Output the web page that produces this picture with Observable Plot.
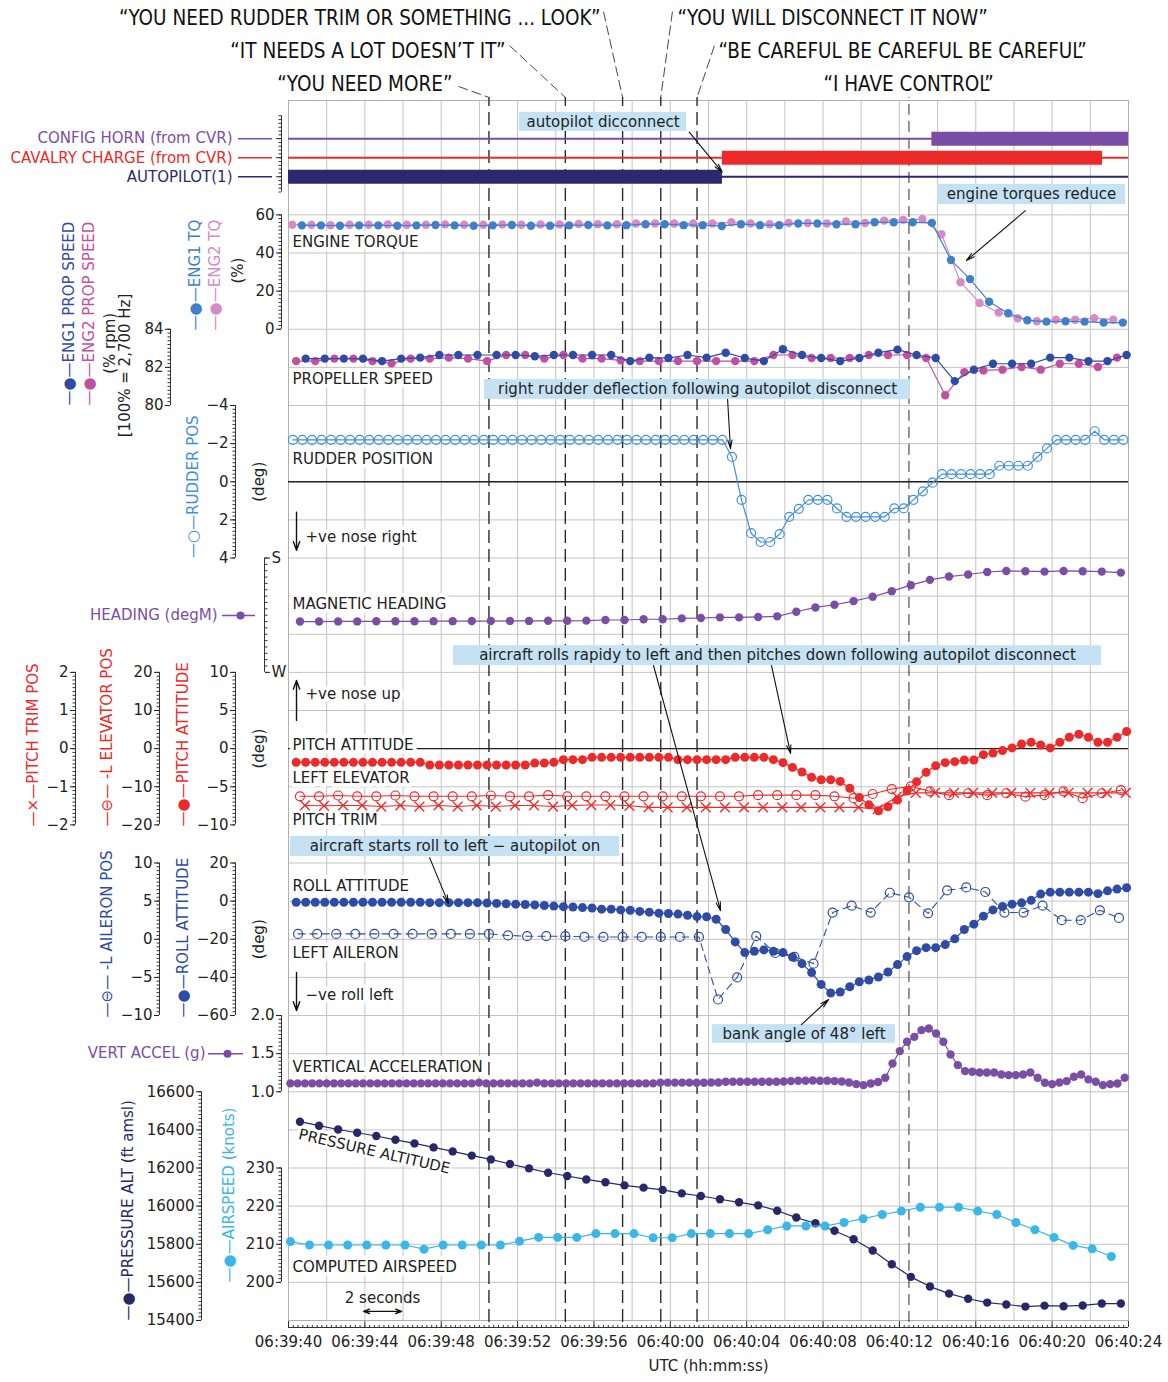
<!DOCTYPE html>
<html><head><meta charset="utf-8">
<script src="https://cdn.jsdelivr.net/npm/d3@7"></script>
<script src="https://cdn.jsdelivr.net/npm/@observablehq/plot@0.6"></script>
<style>
body{margin:0;background:#fff;}
#chart svg{display:block;}
g[aria-label="note-text"] text{letter-spacing:0.5px;}
</style></head><body><div id="chart"></div>
<script>
// ---------------- DATA ----------------
// time in seconds after 06:39:40 UTC
const timeTickSec = [0,4,8,12,16,20,24,28,32,36,40,44];
const timeTickLabels = ["06:39:40","06:39:44","06:39:48","06:39:52","06:39:56","06:40:00","06:40:04","06:40:08","06:40:12","06:40:16","06:40:20","06:40:24"];

const eventTimes = [10.5, 14.5, 17.5, 19.5, 21.4];
const controlTime = [32.5];
const quoteTexts = ["\u201CYOU NEED RUDDER TRIM OR SOMETHING ... LOOK\u201D","\u201CYOU WILL DISCONNECT IT NOW\u201D","\u201CIT NEEDS A LOT DOESN\u2019T IT\u201D","\u201CBE CAREFUL BE CAREFUL BE CAREFUL\u201D","\u201CYOU NEED MORE\u201D","\u201CI HAVE CONTROL\u201D"];
const quoteEvent = [17.5, 19.5, 14.5, 21.4, 10.5, 32.5];

// discrete parameters: [start, end] seconds
const configHornOn = [[33.7, 44]];
const cavalryChargeOn = [[22.73, 42.64]];
const autopilotOn = [[0, 22.73]];

// engine torque (%)
const eng1TqStart = 0.7, eng1TqStep = 1;
const eng1Tq = [54.5,54.5,54.3,54.5,54.5,54.3,54.5,54.7,54.5,54.3,54.5,54.7,54.3,54.3,54.5,54.7,54.5,54.6,55.1,55.1,54.6,54.6,54.2,55.1,54.6,54.6,55.5,55.5,55.1,55.1,56.1,56.1,56.1,55.8,36.3,26.3,14.4,8.4,4.7,4.0,4.2,4.0,3.5,3.5];
const eng2TqStart = 0.2, eng2TqStep = 1;
const eng2Tq = [54.8,54.8,54.6,54.8,54.8,55.0,54.8,54.8,55.0,54.8,54.8,55.0,54.8,55.0,55.0,55.2,55.1,55.1,55.5,55.5,55.5,55.5,55.5,56.1,55.5,55.1,55.7,55.7,55.5,56.6,55.7,57.0,57.4,57.8,49.8,24.7,13.8,8.8,5.8,4.2,5.0,5.0,5.8,5.0];

// propeller speed (% rpm)
const eng1PropStart = 0.9, eng1PropStep = 1;
const eng1Prop = [82.46,82.46,82.46,82.46,82.33,82.46,82.51,82.65,82.65,82.65,82.65,82.65,82.58,82.65,82.65,82.65,82.65,82.33,82.51,82.49,82.65,82.51,82.77,82.49,82.33,82.95,82.65,82.49,82.33,82.49,82.77,82.93,82.65,82.49,81.28,81.88,82.19,82.19,82.19,82.51,82.51,82.33,82.33,82.65];
const eng2PropStart = 0.4, eng2PropStep = 1;
const eng2Prop = [82.33,82.33,82.46,82.46,82.33,82.21,82.46,82.46,82.51,82.46,82.33,82.65,82.65,82.46,82.65,82.46,82.46,82.37,82.33,82.33,82.33,82.33,82.33,82.33,82.33,82.65,82.65,82.49,82.49,82.49,82.65,82.65,82.65,82.49,80.54,81.75,81.84,81.88,82.02,81.88,82.19,82.19,82.02,82.51];

// rudder position (deg)
const rudderStart = 0.23, rudderStep = 0.5;
const rudderPos = [-2.2,-2.2,-2.2,-2.2,-2.2,-2.2,-2.2,-2.2,-2.2,-2.2,-2.2,-2.2,-2.2,-2.2,-2.2,-2.2,-2.2,-2.2,-2.2,-2.2,-2.2,-2.2,-2.2,-2.2,-2.2,-2.2,-2.2,-2.2,-2.2,-2.2,-2.2,-2.2,-2.2,-2.2,-2.2,-2.2,-2.2,-2.2,-2.2,-2.2,-2.2,-2.2,-2.2,-2.2,-2.2,-2.2,
  -1.3,0.95,2.7,3.16,3.16,2.75,1.84,1.42,0.95,0.95,0.95,1.4,1.84,1.84,1.84,1.84,1.84,1.4,1.4,0.95,0.5,0.05,-0.4,-0.4,-0.4,-0.4,-0.4,-0.4,-0.84,-0.84,-0.84,-0.84,-1.3,-1.75,-2.2,-2.2,-2.2,-2.2,-2.65,-2.2,-2.2,-2.2];

// magnetic heading (degM)
const headingStart = 0.6, headingStep = 1;
const heading = [230.0,230.0,229.9,229.9,229.8,229.8,229.8,229.7,229.7,229.6,229.6,229.5,229.5,229.4,229.4,229.3,228.8,228.8,228.2,228.2,227.5,227.2,226.7,226.7,226.4,225.9,222.3,218.9,216.8,213.9,210.5,206.1,201.4,197.2,194.6,193.0,191.0,190.2,190.4,190.7,190.2,190.4,190.7,191.5];

// pitch attitude (deg)
const pitchStart = 0.4, pitchStep = 0.5;
const pitchAtt = [-1.8,-1.8,-1.8,-1.8,-1.8,-1.8,-1.8,-1.8,-1.8,-1.8,-1.8,-1.8,-1.8,-1.8,
  -2.15,-2.15,-2.15,-2.15,-2.15,-2.15,-2.15,-2.15,-2.15,-2.15,-2.15,-1.9,-1.88,-1.8,-1.45,-1.45,-1.45,
  -1.14,-1.14,-1.14,-1.14,-1.14,-1.14,-1.14,-1.14,-1.14,-1.45,-1.45,-1.45,-1.45,-1.45,-1.45,-1.14,-1.14,-1.14,-1.14,-1.45,
  -1.84,-2.46,-3.07,-3.77,-4.08,-4.08,-4.3,-5.2,-6.4,-7.37,-8.16,-7.63,-6.75,-5.53,-4.34,-3.11,-2.24,-1.84,-1.71,-1.49,-1.49,-0.79,-0.57,-0.26,0.09,0.61,0.83,0.48,0.09,0.83,1.49,1.89,1.49,0.83,0.83,1.49,2.24];

// left elevator (deg, plotted as -L)
const elevStart = 0.6, elevStep = 1;
const elevPos = [-12.5,-12.5,-12.3,-12.5,-12.5,-12.3,-12.5,-12.5,-12.5,-12.5,-12.3,-12.5,-12.5,-12.2,-12.5,
  -12.5,-12.5,-12.5,-12.5,-12.5,-12.5,-12.5,-12.5,-12.5,-12.2,-12.2,-12.2,-12.2,-12.5,-13.0,-11.9,-10.6,-9.9,-11.2,-12.2,-11.7,-12.2,-11.7,-12.6,-12.2,-11.2,-13.0,-11.7,-10.9];

// pitch trim position
const trimStart = 0.86, trimStep = 1;
const trimPos = [-1.49,-1.5,-1.49,-1.49,-1.52,-1.49,-1.52,-1.49,-1.52,-1.49,-1.52,-1.49,-1.49,-1.52,-1.49,
  -1.48,-1.48,-1.5,-1.54,-1.54,-1.54,-1.54,-1.54,-1.54,-1.54,-1.54,-1.54,-1.54,-1.54,-1.54,-1.59,-1.26,-1.16,-1.16,-1.16,-1.16,-1.16,-1.16,-1.16,-1.16,-1.16,-1.16,-1.16,-1.16];

// roll attitude (deg)
const rollStart = 0.4, rollStep = 0.5;
const rollAtt = [-0.6,-0.6,-0.6,-0.6,-0.6,-0.6,-0.6,-0.6,-0.6,-0.6,-0.6,-0.6,-0.6,-0.6,-0.8,-0.8,-0.8,-0.8,-0.8,-0.8,
  -1.0,-1.2,-1.4,-1.6,-1.8,-2.0,-2.3,-2.6,-2.9,-3.1,-3.4,
  -3.6,-4.2,-4.2,-4.6,-4.8,-5.4,-5.8,-6.3,-6.5,-6.8,-7.4,-8.1,-8.2,-9.5,-14.9,-21.4,-27.0,-26.3,-25.6,-26.3,-27.0,-29.3,-32.8,-37.5,-43.7,-48.2,-47.7,-44.9,-42.3,-41.4,-39.8,-37.2,-33.3,-29.1,-26.0,-24.4,-24.4,-22.8,-19.8,-14.9,-12.1,-7.9,-4.6,-2.8,-1.6,-0.9,0.4,3.7,4.7,4.7,4.7,4.7,4.7,3.9,5.4,6.3,7.0];

// left aileron (deg, plotted as -L)
const ailStart = 0.5, ailStep = 1;
const ailPos = [0.7,0.7,0.7,0.7,0.7,0.7,0.7,0.7,0.7,0.7,0.7,0.5,0.4,0.4,0.4,
  0.3,0.3,0.3,0.3,0.3,0.3,0.3,-7.9,-5.0,0.4,-1.8,-2.3,-3.2,3.5,4.4,3.5,6.1,5.5,3.4,6.4,6.8,6.2,3.5,3.5,4.4,2.5,2.5,3.8,2.8];

// vertical acceleration (g)
const vaccStart = 0.1, vaccStep = 0.38;
const vertAccel = [1.11,1.11,1.11,1.11,1.11,1.11,1.11,1.11,1.11,1.11,1.11,1.11,1.11,1.11,1.11,1.11,1.11,1.11,1.11,1.11,
  1.11,1.11,1.11,1.11,1.11,1.11,1.12,1.11,1.11,1.11,1.11,1.11,1.11,1.11,1.12,1.11,1.11,1.11,1.11,1.11,
  1.11,1.11,1.11,1.11,1.11,1.11,1.11,1.11,1.11,1.11,1.11,1.12,1.12,1.12,1.12,1.12,
  1.118,1.118,1.122,1.122,1.131,1.131,1.131,1.131,1.131,1.131,1.131,1.131,1.135,1.14,1.144,1.144,1.148,1.144,1.144,1.14,
  1.135,1.122,1.10,1.087,1.109,1.127,1.183,1.371,1.533,1.655,1.72,1.808,1.83,1.764,1.655,1.489,1.349,1.271,1.262,1.253,
  1.253,1.253,1.227,1.218,1.218,1.227,1.253,1.183,1.118,1.10,1.122,1.14,1.197,1.227,1.162,1.131,1.087,1.10,1.109,1.183];

// pressure altitude (ft amsl)
const altStart = 0.6, altStep = 1;
const pressAlt = [16443,16422,16402,16385,16368,16348,16329,16308,16287,16265,16245,16221,16198,16175,16158,16140,16125,16109,16097,16085,16067,16053,16036,16020,16004,15976,15940,15910,15871,15826,15767,15695,15629,15578,15541,15514,15494,15484,15473,15478,15475,15479,15489,15489];

// computed airspeed (knots)
const iasStart = 0.1, iasStep = 1;
const airspeed = [210.7,209.8,209.8,209.8,209.8,209.8,209.8,208.7,209.8,209.8,209.8,209.8,210.8,211.8,211.8,211.8,212.8,212.8,212.8,211.7,211.7,212.8,212.8,212.8,212.8,213.8,214.8,214.8,214.8,215.7,216.7,217.8,218.7,219.7,219.7,219.7,218.7,217.8,215.7,213.8,211.8,209.7,208.8,206.8];

// axis tick values
const tqTicks = [0,20,40,60];
const propTicks = [80,82,84];
const rudTicks = [-4,-2,0,2,4];
const hdgTicks = [180,270], hdgTickLabels = ["S","W"];
const trimTicks = [-2,-1,0,1,2];
const elevTicks = [-20,-10,0,10,20];
const pitchTicks = [-10,-5,0,5,10];
const ailTicks = [-10,-5,0,5,10];
const rollTicks = [-60,-40,-20,0,20];
const vaccTicks = [1.0,1.5,2.0];
const altTicks = [15400,15600,15800,16000,16200,16400,16600];
const iasTicks = [200,210,220,230];

// ---------------- LAYOUT ----------------
const W = 1168, H = 1382, ML = 288, MR = 40, MT = 100, MB = 62;
const FRAME_CX = (ML + W - MR) / 2;
// each panel maps its values onto a common grid (32 grid rows, bottom = 0)
const U = {
  tq: v => 26 + v / 20,
  prop: v => 24 + (v - 80) / 2,
  rud: v => 22 - v / 2,
  hdg: v => 20 - (v - 180) / 30,
  pitch: v => 15 + v / 5,
  elev: v => 15 + v / 10,
  trim: v => 15 + v,
  roll: v => 11 + v / 20,
  ail: v => 10 + v / 5,
  vacc: v => 6 + (v - 1) * 2,
  alt: v => (v - 15400) / 200,
  ias: v => 1 + (v - 200) / 10
};
const C = {
  purple: "#7b4ea6", red: "#ec2a2a", navy: "#2c2a6e", tq1: "#3f80cc", tq2: "#d48bc8",
  prop1: "#2e4ca6", prop2: "#c24fa3", rud: "#3f90dc", roll: "#2e4ca6", alt: "#28276a", ias: "#3ab6e8",
  note: "#c5e2f4", grid: "#c4c4c4", ink: "#222"
};
const series = (t0, step, vals, toU) => vals.map((v, i) => ({t: t0 + i * step, v, u: toU(v)}));

const sTq1 = series(eng1TqStart, eng1TqStep, eng1Tq, U.tq);
const sTq2 = series(eng2TqStart, eng2TqStep, eng2Tq, U.tq);
const sPr1 = series(eng1PropStart, eng1PropStep, eng1Prop, U.prop);
const sPr2 = series(eng2PropStart, eng2PropStep, eng2Prop, U.prop);
const sRud = series(rudderStart, rudderStep, rudderPos, U.rud);
const sHdg = series(headingStart, headingStep, heading, U.hdg);
const sPit = series(pitchStart, pitchStep, pitchAtt, U.pitch);
const sElv = series(elevStart, elevStep, elevPos, U.elev);
const sTrm = series(trimStart, trimStep, trimPos, U.trim);
const sRol = series(rollStart, rollStep, rollAtt, U.roll);
const sAil = series(ailStart, ailStep, ailPos, U.ail);
const sVac = series(vaccStart, vaccStep, vertAccel, U.vacc);
const sAlt = series(altStart, altStep, pressAlt, U.alt);
const sIas = series(iasStart, iasStep, airspeed, U.ias);

const fmt = v => String(v).replace("-", "\u2212");
function axisLine(px, a, b) {
  return Plot.ruleX([{a, b}], {x: null, y1: "a", y2: "b", dx: px - FRAME_CX, stroke: "#333", strokeWidth: 1});
}
function sideAxis(px, ticks, toU, labelFn, minorStep, anchor = "left") {
  const dx = anchor === "left" ? px - ML : px - (W - MR);
  const pos = ticks.map(toU);
  const lo = d3.min(ticks), hi = d3.max(ticks);
  const n = Math.round((hi - lo) / minorStep);
  const minor = d3.range(n + 1).map(i => toU(lo + i * minorStep));
  const lab = new Map(pos.map((p, i) => [p, labelFn(ticks[i], i)]));
  return [
    axisLine(px, d3.min(pos), d3.max(pos)),
    Plot.axisY(minor, {anchor, dx, tickSize: 2.5, tickFormat: () => "", label: null, color: "#333"}),
    Plot.axisY(pos, {anchor, dx, tickSize: 5, tickPadding: 2, tickFormat: p => lab.get(p), label: null, color: "#222", fontSize: 15})
  ];
}
const lineDot = (data, color, opts = {}) => [
  Plot.line(data, {x: "t", y: "u", stroke: color, strokeWidth: 1.2, ...(opts.line || {})}),
  Plot.dot(data, {x: "t", y: "u", r: 4.2, fill: color, ...(opts.dot || {})})
];

// annotations (positions in seconds / grid rows)
const notes = [
  {text: "autopilot dicconnect", t1: 12.10, t2: 20.85, u1: 31.19, u2: 31.69},
  {text: "engine torques reduce", t1: 34.0, t2: 43.84, u1: 29.27, u2: 29.80},
  {text: "right rudder deflection following autopilot disconnect", t1: 10.27, t2: 32.58, u1: 24.16, u2: 24.68},
  {text: "aircraft rolls rapidy to left and then pitches down following autopilot disconnect", t1: 8.64, t2: 42.59, u1: 17.18, u2: 17.70},
  {text: "aircraft starts roll to left \u2212 autopilot on", t1: 0.10, t2: 17.34, u1: 12.17, u2: 12.70},
  {text: "bank angle of 48\u00B0 left", t1: 22.21, t2: 31.80, u1: 7.27, u2: 7.76}
];
const noteArrows = [
  {t1: 20.99, u1: 31.17, t2: 22.72, u2: 30.12},
  {t1: 38.6, u1: 29.11, t2: 35.51, u2: 27.80},
  {t1: 23.0, u1: 24.16, t2: 23.15, u2: 22.87},
  {t1: 19.12, u1: 17.18, t2: 22.63, u2: 10.75},
  {t1: 25.3, u1: 17.18, t2: 26.3, u2: 14.87},
  {t1: 7.39, u1: 12.14, t2: 8.38, u2: 10.94},
  {t1: 26.87, u1: 7.76, t2: 28.29, u2: 8.42}
];
const signArrows = [
  {t1: 0.42, u1: 21.2, t2: 0.42, u2: 20.2},
  {t1: 0.42, u1: 15.74, t2: 0.42, u2: 16.79},
  {t1: 0.42, u1: 9.13, t2: 0.42, u2: 8.13},
  // "2 seconds" span, drawn from its middle outwards
  {t1: 4.93, u1: 0.24, t2: 3.93, u2: 0.24},
  {t1: 4.93, u1: 0.24, t2: 5.93, u2: 0.24}
];
const panelLabels = [
  {text: "ENGINE TORQUE", u: 28.28, dx: 4},
  {text: "PROPELLER SPEED", u: 24.68, dx: 4},
  {text: "RUDDER POSITION", u: 22.58, dx: 4},
  {text: "+ve nose right", u: 20.54, dx: 17},
  {text: "MAGNETIC HEADING", u: 18.78, dx: 4},
  {text: "+ve nose up", u: 16.42, dx: 17},
  {text: "PITCH ATTITUDE", u: 15.08, dx: 4},
  {text: "LEFT ELEVATOR", u: 14.22, dx: 4},
  {text: "PITCH TRIM", u: 13.11, dx: 4},
  {text: "ROLL ATTITUDE", u: 11.38, dx: 4},
  {text: "LEFT AILERON", u: 9.63, dx: 4},
  {text: "\u2212ve roll left", u: 8.52, dx: 17},
  {text: "VERTICAL ACCELERATION", u: 6.64, dx: 4},
  {text: "COMPUTED AIRSPEED", u: 1.39, dx: 4}
];
const quotePos = [
  {x: 16.34, u: 34.15, anchor: "end", lx: 16.5, lu: 34.33},
  {x: 20.38, u: 34.15, anchor: "start", lx: 20.11, lu: 34.33},
  {x: 11.37, u: 33.28, anchor: "end", lx: 11.58, lu: 33.44},
  {x: 22.52, u: 33.28, anchor: "start", lx: 22.31, lu: 33.44},
  {x: 8.59, u: 32.42, anchor: "end", lx: 8.9, lu: 32.37},
  {x: 32.48, u: 32.42, anchor: "middle", lx: null, lu: null}
];
const quotes = quoteTexts.map((text, i) => ({text, ev: quoteEvent[i], ...quotePos[i]}));

// left-hand legend texts: rotated (px = x position, u = anchor row)
const rotLegends = [
  {text: "\u2014\u25CF\u2014ENG1 PROP SPEED", px: 69, u: 24.0, color: C.prop1, anchor: "start"},
  {text: "\u2014\u25CF\u2014ENG2 PROP SPEED", px: 89, u: 24.0, color: C.prop2, anchor: "start"},
  {text: "(% rpm)", px: 110, u: 25.63, color: C.ink, anchor: "middle"},
  {text: "[100% = 2,700 Hz]", px: 125, u: 25.05, color: C.ink, anchor: "middle"},
  {text: "\u2014\u25CF\u2014ENG1 TQ", px: 195, u: 25.97, color: C.tq1, anchor: "start"},
  {text: "\u2014\u25CF\u2014ENG2 TQ", px: 215, u: 25.97, color: C.tq2, anchor: "start"},
  {text: "(%)", px: 238, u: 27.54, color: C.ink, anchor: "middle"},
  {text: "\u2014\u25CB\u2014RUDDER POS", px: 193, u: 20.0, color: C.rud, anchor: "start"},
  {text: "(deg)", px: 259, u: 22.0, color: C.ink, anchor: "middle"},
  {text: "\u2014\u00D7\u2014PITCH TRIM POS", px: 33, u: 12.96, color: C.red, anchor: "start"},
  {text: "\u2014\u2296\u2014 -L ELEVATOR POS", px: 107, u: 12.96, color: C.red, anchor: "start"},
  {text: "\u2014\u25CF\u2014PITCH ATTITUDE", px: 183, u: 12.96, color: C.red, anchor: "start"},
  {text: "(deg)", px: 259, u: 15.0, color: C.ink, anchor: "middle"},
  {text: "\u2014\u2296\u2014 -L AILERON POS", px: 107, u: 7.95, color: C.roll, anchor: "start"},
  {text: "\u2014\u25CF\u2014ROLL ATTITUDE", px: 183, u: 7.95, color: C.roll, anchor: "start"},
  {text: "(deg)", px: 259, u: 10.0, color: C.ink, anchor: "middle"},
  {text: "\u2014\u25CF\u2014PRESSURE ALT (ft amsl)", px: 128, u: 0.0, color: C.alt, anchor: "start"},
  {text: "\u2014\u25CF\u2014AIRSPEED (knots)", px: 229, u: 1.0, color: C.ias, anchor: "start"}
];
const sideLabels = [
  {text: "CONFIG HORN (from CVR)", u: 31, color: C.purple, end: 232, l1: 238, l2: 272, dot: null},
  {text: "CAVALRY CHARGE (from CVR)", u: 30.5, color: C.red, end: 232, l1: 238, l2: 272, dot: null},
  {text: "AUTOPILOT(1)", u: 30, color: C.navy, end: 232, l1: 238, l2: 272, dot: null},
  {text: "HEADING (degM)", u: 18.49, color: C.purple, end: 217, l1: 222, l2: 255, dot: 240},
  {text: "VERT ACCEL (g)", u: 7.0, color: C.purple, end: 205, l1: 208, l2: 243, dot: 227}
];

const marks = [
  // grid + frame
  Plot.ruleY(d3.range(0, 33), {stroke: C.grid, strokeWidth: 1}),
  Plot.ruleX(d3.range(0, 45, 2), {stroke: C.grid, strokeWidth: 1}),
  Plot.frame({stroke: "#b0b0b0"}),
  Plot.ruleY([U.rud(0), U.pitch(0)], {stroke: "#222", strokeWidth: 1.4}),
  // event markers
  Plot.ruleX(eventTimes, {y1: -0.05, y2: 32.08, stroke: "#2a2a2a", strokeWidth: 1.4, strokeDasharray: "13,6"}),
  Plot.ruleX(controlTime, {y1: -0.05, y2: 32.08, stroke: "#2a2a2a", strokeWidth: 1, strokeDasharray: "11,6"}),
  Plot.link(quotes.filter(d => d.lx !== null), {x1: "lx", y1: "lu", x2: "ev", y2: () => 32.08, stroke: "#333", strokeWidth: 0.9, strokeDasharray: "10,4"}),
  ...quotes.map(d => Plot.text([d], {x: "x", y: "u", text: "text", textAnchor: d.anchor, fontFamily: "'Liberation Sans Narrow','DejaVu Sans Condensed',sans-serif", fontSize: 20.5, fill: "#111"})),
  // discrete strip
  Plot.ruleY([31], {stroke: C.purple, strokeWidth: 2}),
  Plot.ruleY([30.5], {stroke: C.red, strokeWidth: 2}),
  Plot.ruleY([30], {stroke: C.navy, strokeWidth: 2}),
  Plot.ruleY(configHornOn, {y: () => 31, x1: d => d[0], x2: d => d[1], stroke: C.purple, strokeWidth: 14}),
  Plot.ruleY(cavalryChargeOn, {y: () => 30.5, x1: d => d[0], x2: d => d[1], stroke: C.red, strokeWidth: 14}),
  Plot.ruleY(autopilotOn, {y: () => 30, x1: d => d[0], x2: d => d[1], stroke: C.navy, strokeWidth: 14}),
  // annotation boxes behind data
  Plot.rect(notes, {x1: "t1", x2: "t2", y1: "u1", y2: "u2", fill: C.note}),
  // panel labels (white halo)
  ...panelLabels.map(d => Plot.text([d], {frameAnchor: "left", y: "u", dx: d.dx, text: "text", textAnchor: "start", fill: C.ink, stroke: "white", strokeWidth: 8, fontSize: 15})),
  Plot.text([{t: 4.5, u: 4.43}], {x: "t", y: "u", text: () => "PRESSURE ALTITUDE", rotate: 13, fill: C.ink, stroke: "white", strokeWidth: 6, fontSize: 15}),
  Plot.text([{t: 4.93, u: 0.58}], {x: "t", y: "u", text: () => "2 seconds", fill: C.ink, fontSize: 15}),
  Plot.arrow(signArrows, {x1: "t1", y1: "u1", x2: "t2", y2: "u2", stroke: "#111", strokeWidth: 1.4, headLength: 10, headAngle: 40}),
  // data: engine torque
  ...lineDot(sTq2, C.tq2),
  ...lineDot(sTq1, C.tq1),
  // propeller speed
  ...lineDot(sPr2, C.prop2),
  ...lineDot(sPr1, C.prop1),
  // rudder
  Plot.line(sRud, {x: "t", y: "u", stroke: C.rud, strokeWidth: 1.2}),
  Plot.dot(sRud, {x: "t", y: "u", r: 4.5, stroke: C.rud, strokeWidth: 1.2}),
  // heading
  ...lineDot(sHdg, C.purple),
  // pitch trim, elevator, pitch attitude
  Plot.line(sTrm, {x: "t", y: "u", stroke: C.red, strokeWidth: 1.1}),
  Plot.dot(sTrm, {x: "t", y: "u", r: 4.5, symbol: "times", stroke: C.red, strokeWidth: 1.3}),
  Plot.line(sElv, {x: "t", y: "u", stroke: C.red, strokeWidth: 1.1}),
  Plot.dot(sElv, {x: "t", y: "u", r: 4.5, stroke: C.red, strokeWidth: 1.2}),
  ...lineDot(sPit, C.red, {dot: {r: 4.5}}),
  // aileron + roll
  Plot.line(sAil, {x: "t", y: "u", stroke: C.roll, strokeWidth: 1.1, strokeDasharray: "7,5"}),
  Plot.dot(sAil, {x: "t", y: "u", r: 4.5, stroke: C.roll, strokeWidth: 1.2}),
  ...lineDot(sRol, C.roll, {dot: {r: 4.5}}),
  // vertical acceleration
  ...lineDot(sVac, C.purple),
  // altitude + airspeed
  ...lineDot(sAlt, C.alt),
  ...lineDot(sIas, C.ias, {dot: {r: 4.5}}),
  // annotation texts + arrows
  Plot.text(notes, {x: d => (d.t1 + d.t2) / 2, y: d => (d.u1 + d.u2) / 2, text: "text", fill: C.ink, fontSize: 15, ariaLabel: "note-text"}),
  Plot.arrow(noteArrows, {x1: "t1", y1: "u1", x2: "t2", y2: "u2", stroke: "#111", strokeWidth: 1.1, headLength: 12, headAngle: 28}),
  // x axis
  Plot.ruleY([0], {dy: 7, stroke: "#333"}),
  Plot.axisX(d3.range(0, 177).map(i => i * 0.25), {anchor: "bottom", tickSize: 2, dy: 5, tickFormat: () => "", label: null, color: "#333"}),
  Plot.axisX(timeTickSec, {anchor: "bottom", tickSize: 6, dy: 1, tickFormat: () => "", label: null, color: "#333"}),
  Plot.axisX(timeTickSec, {anchor: "bottom", tickSize: 0, tickPadding: 16, tickFormat: (d) => timeTickLabels[timeTickSec.indexOf(d)], label: null, color: "#222", fontSize: 15}),
  Plot.text(["UTC (hh:mm:ss)"], {frameAnchor: "bottom", dy: 50, text: d => d, fill: C.ink, fontSize: 15}),
  // left axes
  axisLine(281, 29.6, 31.6),
  Plot.axisY(d3.range(0, 21).map(i => 29.6 + i * 0.1), {anchor: "left", dx: -7, tickSize: 2.5, tickFormat: () => "", label: null, color: "#333"}),
  Plot.axisY([30, 30.5, 31], {anchor: "left", dx: -7, tickSize: 5, tickFormat: () => "", label: null, color: "#333"}),
  ...sideAxis(281, tqTicks, U.tq, fmt, 2),
  ...sideAxis(170, propTicks, U.prop, fmt, 0.2),
  ...sideAxis(235, rudTicks, U.rud, fmt, 0.2),
  ...sideAxis(264, hdgTicks, U.hdg, (v, i) => hdgTickLabels[i], 5, "right"),
  ...sideAxis(75, trimTicks, U.trim, fmt, 0.1),
  ...sideAxis(159, elevTicks, U.elev, fmt, 1),
  ...sideAxis(235, pitchTicks, U.pitch, fmt, 0.5),
  ...sideAxis(159, ailTicks, U.ail, fmt, 0.5),
  ...sideAxis(235, rollTicks, U.roll, fmt, 2),
  ...sideAxis(281, vaccTicks, U.vacc, v => v.toFixed(1), 0.05),
  ...sideAxis(201, altTicks, U.alt, v => String(v), 20),
  ...sideAxis(281, iasTicks, U.ias, v => String(v), 1),
  // left legends
  ...rotLegends.map(d => Plot.text([d], {frameAnchor: "left", y: "u", dx: d.px - ML, text: "text", rotate: -90, textAnchor: d.anchor, fill: d.color, fontSize: 15})),
  ...sideLabels.map(d => Plot.text([d], {frameAnchor: "left", y: "u", dx: d.end - ML, text: "text", textAnchor: "end", fill: d.color, fontSize: 15})),
  ...sideLabels.map(d => Plot.ruleY([d], {y: "u", insetLeft: d.l1 - ML, insetRight: (W - MR) - d.l2, stroke: d.color, strokeWidth: 1.5})),
  ...sideLabels.filter(d => d.dot !== null).map(d => Plot.dot([d], {frameAnchor: "left", y: "u", dx: d.dot - ML, r: 4, fill: d.color}))
];

const chart = Plot.plot({
  width: W, height: H,
  marginLeft: ML, marginRight: MR, marginTop: MT, marginBottom: MB,
  x: {domain: [0, 44]},
  y: {domain: [0, 32]},
  style: {fontFamily: "'DejaVu Sans', sans-serif", fontSize: "15px", background: "white", color: "#222", overflow: "visible"},
  marks
});
document.getElementById("chart").append(chart);
</script></body></html>
